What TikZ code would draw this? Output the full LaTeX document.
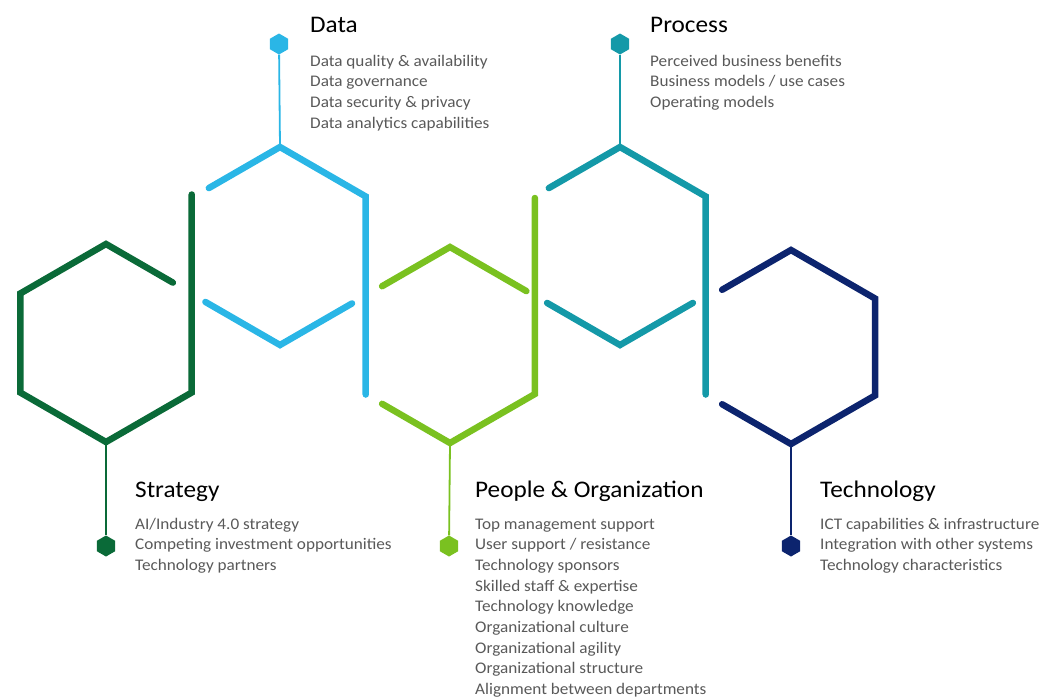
\documentclass[tikz,border=0pt]{standalone}
\usepackage{fontspec}
\setmainfont{Carlito}[FakeStretch=1.06]
\usetikzlibrary{calc,shapes.geometric}
\definecolor{cstrat}{RGB}{10,106,56}
\definecolor{cdata}{RGB}{42,182,230}
\definecolor{cpeople}{RGB}{122,193,32}
\definecolor{cproc}{RGB}{20,153,168}
\definecolor{ctech}{RGB}{12,36,110}
\definecolor{textgray}{RGB}{89,89,89}
\tikzset{
  hexline/.style={line width=6.5pt, line cap=round, line join=miter},
  stem/.style={line width=1.8pt},
  marker/.style={regular polygon, regular polygon sides=6, shape border rotate=30,
    minimum size=21pt, inner sep=0pt, fill, draw=none},
  title/.style={anchor=base west, inner sep=0pt, font=\fontsize{23.8}{28}\selectfont, text=black},
  items/.style={anchor=base west, inner sep=0pt, text=textgray, font=\fontsize{16.2}{20.7}\selectfont},
}
\newcommand\hexpts[4]{%
  \coordinate (#1c) at (#2,#3);
  \coordinate (#1T) at ({#2},{#3-#4});
  \coordinate (#1UR) at ({#2+0.866*#4},{#3-0.5*#4});
  \coordinate (#1LR) at ({#2+0.866*#4},{#3+0.5*#4});
  \coordinate (#1B) at ({#2},{#3+#4});
  \coordinate (#1LL) at ({#2-0.866*#4},{#3+0.5*#4});
  \coordinate (#1UL) at ({#2-0.866*#4},{#3-0.5*#4});
}
\newcommand\itemlist[1]{\parbox[t]{12cm}{\raggedright #1}}
\begin{document}
\begin{tikzpicture}[x=1pt,y=-1pt]
\useasboundingbox (0,0) rectangle (1054,697);
\hexpts{g}{106}{343}{99}
\hexpts{b}{280}{246}{99}
\hexpts{l}{450}{345}{98}
\hexpts{t}{620}{246}{99}
\hexpts{n}{791}{347}{97}

% Strategy hexagon
\draw[hexline, cstrat] ($(gT)!0.78!(gUR)$) -- (gT) -- (gUL) -- (gLL) -- (gB) -- (gLR) -- ($(gLR)!2!(gUR)$);
% Data hexagon
\draw[hexline, cdata] ($(bUL)!0.17!(bT)$) -- (bT) -- (bUR) -- (bLR) -- ($(bUR)!2!(bLR)$);
\draw[hexline, cdata] ($(bLL)!0.13!(bB)$) -- (bB) -- ($(bB)!0.84!(bLR)$);
% People hexagon
\draw[hexline, cpeople] ($(lUL)!0.2!(lT)$) -- (lT) -- ($(lT)!0.9!(lUR)$);
\draw[hexline, cpeople] ($(lLL)!0.2!(lB)$) -- (lB) -- (lLR) -- ($(lLR)!2!(lUR)$);
% Process hexagon
\draw[hexline, cproc] ($(tUL)!0.17!(tT)$) -- (tT) -- (tUR) -- (tLR) -- ($(tUR)!2!(tLR)$);
\draw[hexline, cproc] ($(tLL)!0.15!(tB)$) -- (tB) -- ($(tB)!0.85!(tLR)$);
% Technology hexagon
\draw[hexline, ctech] ($(nUL)!0.18!(nT)$) -- (nT) -- (nUR) -- (nLR) -- (nB) -- ($(nB)!0.82!(nLL)$);

% markers
\node[marker, cstrat] (ms) at (106,546) {};
\node[marker, cdata] (md) at (279,44) {};
\node[marker, cpeople] (mp) at (449,546) {};
\node[marker, cproc] (mr) at (620,44) {};
\node[marker, ctech] (mt) at (791,546) {};

\draw[stem, cstrat] (gB) -- (ms);
\draw[stem, cdata] (md) -- (bT);
\draw[stem, cpeople] (lB) -- (mp);
\draw[stem, cproc] (mr) -- (tT);
\draw[stem, ctech] (nB) -- (mt);

% texts
\node[title] (tdata) at (310,32) {Data};
\node[items] (idata) at (310,66) {\itemlist{Data quality \& availability\\Data governance\\Data security \& privacy\\Data analytics capabilities}};
\node[title] (tproc) at (650,32) {Process};
\node[items] (iproc) at (650,66) {\itemlist{Perceived business benefits\\Business models / use cases\\Operating models}};
\node[title] (tstrat) at (135,497) {Strategy};
\node[items] (istrat) at (135,529) {\itemlist{AI/Industry 4.0 strategy\\Competing investment opportunities\\Technology partners}};
\node[title] (tpeople) at (475,497) {People \& Organization};
\node[items] (ipeople) at (475,529) {\itemlist{Top management support\\User support / resistance\\Technology sponsors\\Skilled staff \& expertise\\Technology knowledge\\Organizational culture\\Organizational agility\\Organizational structure\\Alignment between departments}};
\node[title] (ttech) at (820,497) {Technology};
\node[items] (itech) at (820,529) {\itemlist{ICT capabilities \& infrastructure\\Integration with other systems\\Technology characteristics}};
\end{tikzpicture}
\end{document}
